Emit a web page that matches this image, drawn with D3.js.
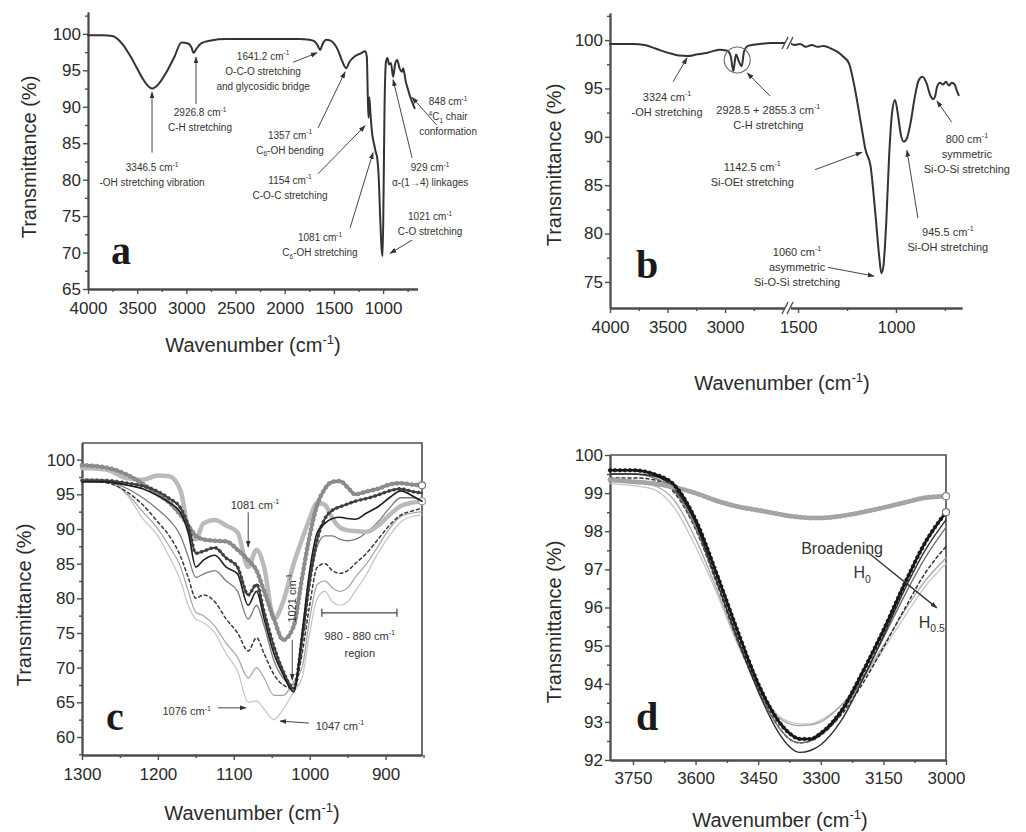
<!DOCTYPE html>
<html>
<head>
<meta charset="utf-8">
<script src="https://cdn.jsdelivr.net/npm/d3@7/dist/d3.min.js"></script>
<style>
  body { margin: 0; background: #fff; }
  svg text { font-family: "Liberation Sans", Arial, sans-serif; }
</style>
</head>
<body>
<svg id="fig" width="1026" height="832"></svg>
<script>
// ---------------- panel a : starch ----------------
const aWave = [4000, 3850, 3750, 3650, 3550, 3450, 3400, 3346, 3290, 3200, 3120, 3050, 2990, 2950, 2926, 2900, 2850, 2750, 2600, 2400,
  2200, 2000, 1850, 1750, 1700, 1665, 1641, 1615, 1580, 1540, 1500, 1460, 1420, 1376, 1340, 1290, 1230, 1180, 1165, 1155,
  1148, 1140, 1128, 1110, 1090, 1075, 1060, 1045, 1030, 1015, 1005, 995, 985, 970, 955, 940, 920, 898, 875, 857,
  830, 807, 796, 770, 745, 725, 700, 680];
const aTrans = [99.8, 99.8, 99.7, 98.6, 96.5, 94, 93, 92.5, 93, 94.8, 96.9, 98.8, 98.7, 98.2, 97.4, 97.9, 98.7, 99.1, 99.3, 99.3,
  99.3, 99.3, 99.3, 99.2, 99.0, 98.4, 97.8, 98.6, 99.2, 99.1, 98.7, 97.8, 96.4, 95.3, 96.2, 96.9, 97.3, 97.6, 96.8, 91.2,
  88.5, 91.3, 89, 86.2, 84.8, 83.8, 83, 80.5, 75, 70.5, 69.5, 78, 90, 96.2, 96.7, 95.8, 96, 94.1, 96, 96.4,
  95.2, 94.8, 95.3, 93.5, 92.3, 91.4, 90.5, 89.8];
const aXMajor = [4000, 3500, 3000, 2500, 2000, 1500, 1000];
const aXMinor = [3750, 3250, 2750, 2250, 1750, 1250, 750];
const aYMajor = [65, 70, 75, 80, 85, 90, 95, 100];
const aYMinor = [67.5, 72.5, 77.5, 82.5, 87.5, 92.5, 97.5, 102.5];
const aNotes = [
  {w: 3349, v: 81.6, t: ["3346.5 cm^{-1}", "-OH stretching vibration"], from: [3349, 83.7], to: [3349, 92.0]},
  {w: 2861, v: 89.15, t: ["2926.8 cm^{-1}", "C-H stretching"], from: [2902, 90.4], to: [2902, 96.8]},
  {w: 2220, v: 96.96, t: ["1641.2 cm^{-1}", "O-C-O stretching", "and glycosidic bridge"], from: [1915, 96.1], to: [1671, 97.4]},
  {w: 1946, v: 86.1, t: ["1357 cm^{-1}", "C_{6}-OH bending"], from: [1661, 87.1], to: [1386, 94.8]},
  {w: 1946, v: 79.95, t: ["1154 cm^{-1}", "C-O-C stretching"], from: [1661, 80.8], to: [1183, 87.4]},
  {w: 1641, v: 72.1, t: ["1081 cm^{-1}", "C_{6}-OH stretching"], from: [1335, 73.4], to: [1102, 83.7]},
  {w: 522, v: 74.9, t: ["1021 cm^{-1}", "C-O stretching"], from: [705, 71.7], to: [929, 69.9]},
  {w: 522, v: 81.7, t: ["929 cm^{-1}", "\u03b1-(1\u21924) linkages"], from: [705, 83], to: [898, 93.7]},
  {w: 339, v: 90.7, t: ["848 cm^{-1}", "^{4}C_{1} chair", "conformation"], from: [456, 87.5], to: [705, 91.3]}
];

// ---------------- panel b : TEOS ----------------
const bWave1 = [4000, 3800, 3700, 3600, 3500, 3400, 3324, 3250, 3150, 3050, 2980, 2950, 2928, 2905, 2880, 2855, 2835, 2800, 2700, 2600, 2470];
const bTrans1 = [99.6, 99.6, 99.5, 99.1, 98.7, 98.4, 98.35, 98.5, 98.7, 99, 98.9, 98.3, 96.8, 98.5, 97.8, 97.3, 98.8, 99.4, 99.6, 99.7, 99.7];
const bWave2 = [1541, 1520, 1490, 1460, 1430, 1400, 1370, 1340, 1300, 1270, 1240, 1210, 1180, 1155, 1130, 1105, 1085, 1075, 1065, 1050,
  1035, 1020, 1005, 990, 975, 960, 945, 925, 905, 885, 865, 845, 825, 810, 800, 790, 775, 760, 745, 730, 715, 700, 690, 680];
const bTrans2 = [99.7, 99.5, 99.6, 99.3, 99.5, 99.3, 99.4, 99.2, 98.8, 98.3, 97.6, 95, 91.5, 88.6, 87, 82, 77.5, 75.9, 76.5, 81,
  88, 92.5, 93.8, 92.3, 90.2, 89.5, 89.8, 91.5, 94, 95.8, 96.2, 95.6, 94.3, 93.9, 94.2, 95.2, 95.6, 95.4, 95.7, 95.3, 95.6, 95.4, 94.8, 94.3];
const bXMajor1 = [4000, 3500, 3000];
const bXMinor1 = [3750, 3250, 2750];
const bXMajor2 = [1500, 1000];
const bXMinor2 = [1250, 750];
const bYMajor = [75, 80, 85, 90, 95, 100];
const bYMinor = [77.5, 82.5, 87.5, 92.5, 97.5, 102.5];
const bNotes = [
  {w: 3504, v: 94.1, t: ["3324 cm^{-1}", "-OH stretching"], from: [3452, 95.7], to: [3330, 98.15]},
  {w: 2624, v: 92.77, t: ["2928.5 + 2855.3 cm^{-1}", "C-H stretching"], from: [2607, 94.2], to: [2807, 96.6]},
  {w: 2763, v: 86.9, t: ["1142.5 cm^{-1}", "Si-OEt stretching"], from: [1413, 86.6], to: [1174, 88.4]},
  {w: 1505, v: 78.1, t: ["1060 cm^{-1}", "asymmetric", "Si-O-Si stretching"], from: [1347, 76.5], to: [1112, 75.6]},
  {w: 735, v: 80.15, t: ["945.5 cm^{-1}", "Si-OH stretching"], from: [888, 81.6], to: [944, 88.6]},
  {w: 638, v: 89.8, t: ["800 cm^{-1}", "symmetric", "Si-O-Si stretching"], from: [715, 91.5], to: [791, 93.7]}
];
const bCircle = [2894, 97.94];

// ---------------- panel c : 1300-850 region ----------------
const cWave = [1300, 1270, 1240, 1220, 1200, 1185, 1170, 1160, 1150, 1140, 1125, 1110, 1095, 1081, 1070, 1060, 1047, 1035, 1021, 1010,
  1000, 990, 980, 970, 960, 950, 940, 925, 910, 895, 880, 865, 852];
const cLightThick = [98.8, 98.6, 97.3, 97.1, 97.7, 97.6, 95.5, 90, 88.5, 90.8, 91.3, 90.5, 89.5, 84.5, 87, 84.5, 77, 79.5, 85, 88.5,
  91.5, 93.8, 93.5, 91.5, 90.2, 89.8, 89.7, 89.6, 90.5, 92, 93.3, 93.8, 94];
const cGrayMarked = [99.2, 98.9, 97.8, 96.5, 95, 93.8, 92, 90.5, 89, 88.5, 88.3, 88.2, 87, 85.5, 84, 81, 77, 74, 76, 83,
  89, 93.5, 95.8, 96.8, 96.9, 96, 95, 95.4, 95.8, 96.4, 96.6, 96.4, 96.3];
const cDark = [96.8, 96.8, 96.3, 95.8, 94.8, 93.8, 92.3, 89.5, 84.5, 85.5, 86.2, 84.5, 83.5, 79, 81, 77, 72, 69, 66.5, 75,
  84, 89.5, 90.8, 91.5, 91.7, 91.5, 91.4, 92.3, 93.2, 94.5, 95.5, 94.8, 94];
const cDarkMarked = [97, 97, 96.6, 96.2, 95.4, 94.4, 93, 90.5, 86.5, 86.8, 87.3, 85.8, 84.5, 80.5, 82, 78, 73, 69.5, 67, 74,
  82.5, 88.5, 91.5, 92.7, 93.2, 93.6, 94, 94.4, 94.9, 95.5, 95.8, 95.4, 95.2];
const cGray = [97, 96.9, 95.8, 94.5, 92.8, 91.3, 89, 86, 83, 83.5, 84, 82.5, 81, 77, 79, 76, 71, 68.5, 67.5, 74,
  82, 87.5, 89, 89, 88.5, 88.3, 88.5, 89.5, 91, 93, 94.5, 94.5, 94.2];
const cDashed = [96.9, 96.7, 95.3, 93.5, 91, 89, 86, 83, 80, 80.5, 79.5, 77, 75, 72.4, 74.3, 72, 69, 67.5, 67, 72,
  79, 84.5, 85, 84, 83.6, 84, 85, 86.5, 88.5, 90.5, 92, 92.6, 93];
const cLight = [97.2, 97, 95, 92.5, 90, 87.5, 84.5, 81, 78, 77.5, 76, 73.5, 71.5, 68.5, 70, 68.5, 66, 66, 68, 70,
  77, 82, 82.5, 81.5, 81, 81.5, 83, 85, 87.5, 90, 91.8, 92.3, 92.5];
const cLighter = [97.3, 97.1, 94.8, 91.5, 89, 86, 82.5, 79, 77, 76.5, 75, 72, 69.5, 65, 65.2, 64, 62.5, 64, 66.5, 68.5,
  75, 80, 81, 79.5, 79, 79.5, 81, 83.5, 86.5, 89, 91, 91.8, 92];
const cXMajor = [1300, 1200, 1100, 1000, 900];
const cXMinor = [1250, 1150, 1050, 950, 850];
const cYMajor = [60, 65, 70, 75, 80, 85, 90, 95, 100];
const cYMinor = [57.5, 62.5, 67.5, 72.5, 77.5, 82.5, 87.5, 92.5, 97.5];

// ---------------- panel d : OH region ----------------
const dWave = [3805, 3750, 3700, 3650, 3600, 3550, 3500, 3450, 3400, 3375, 3350, 3325, 3300, 3250, 3200, 3150, 3100, 3050, 3000];
const dGrayThick = [99.35, 99.3, 99.25, 99.15, 99.0, 98.8, 98.65, 98.55, 98.45, 98.4, 98.37, 98.35, 98.35, 98.4, 98.5, 98.62, 98.75, 98.88, 98.92];
const dBlackMarked = [99.6, 99.6, 99.5, 99.2, 98.3, 96.9, 95.4, 94.0, 93.0, 92.7, 92.55, 92.55, 92.7, 93.3, 94.3, 95.4, 96.6, 97.7, 98.5];
const dDark = [99.5, 99.5, 99.45, 99.1, 98.2, 96.7, 95.2, 93.8, 92.7, 92.35, 92.2, 92.25, 92.4, 93.05, 94.1, 95.25, 96.45, 97.5, 98.3];
const dGray = [99.5, 99.5, 99.4, 99.05, 98.1, 96.7, 95.2, 93.85, 92.85, 92.55, 92.45, 92.5, 92.65, 93.25, 94.15, 95.2, 96.3, 97.3, 98.1];
const dDashed = [99.4, 99.4, 99.35, 99, 98.05, 96.65, 95.15, 93.85, 92.85, 92.55, 92.45, 92.5, 92.65, 93.2, 94.0, 94.95, 95.95, 96.9, 97.6];
const dLight = [99.3, 99.3, 99.2, 98.8, 97.8, 96.5, 95.1, 93.9, 93.1, 92.95, 92.9, 92.92, 93.0, 93.45, 94.15, 95.0, 95.9, 96.7, 97.3];
const dLighter = [99.25, 99.2, 99.1, 98.6, 97.6, 96.4, 95.05, 93.95, 93.15, 93.0, 92.95, 92.95, 93.05, 93.45, 94.1, 94.9, 95.75, 96.55, 97.15];
const dXMajor = [3750, 3600, 3450, 3300, 3150, 3000];
const dXMinor = [3675, 3525, 3375, 3225, 3075];
const dYMajor = [92, 93, 94, 95, 96, 97, 98, 99, 100];
const dYMinor = [92.5, 93.5, 94.5, 95.5, 96.5, 97.5, 98.5, 99.5];

// ---------------- drawing ----------------
const AX = "#4d4d4d", TXT = "#2a2a2a";
const svg = d3.select("#fig");
svg.append("rect").attr("width", 1026).attr("height", 832).attr("fill", "#fff");

const defs = svg.append("defs");
defs.append("marker").attr("id", "arr")
    .attr("viewBox", "0 0 10 10").attr("refX", 9).attr("refY", 5)
    .attr("markerWidth", 7).attr("markerHeight", 7)
    .attr("markerUnits", "userSpaceOnUse").attr("orient", "auto")
    .append("path").attr("d", "M0,1.5L10,5L0,8.5z").attr("fill", "#333");

// text with ^{sup} and _{sub}
function rich(text, str, size) {
    let parts = str.split(/(\^\{[^}]*\}|_\{[^}]*\})/).filter(p => p.length);
    let cur = 0;
    parts.forEach(p => {
        let off = 0, s = p, fs = size;
        if (p.startsWith("^{")) { off = -0.42 * size; s = p.slice(2, -1); fs = size * 0.65; }
        else if (p.startsWith("_{")) { off = 0.28 * size; s = p.slice(2, -1); fs = size * 0.65; }
        text.append("tspan").attr("dy", off - cur).attr("font-size", fs).text(s);
        cur = off;
    });
}

function tidy(sel) {
    sel.attr("font-family", null);
    sel.select(".domain").attr("stroke", AX).attr("stroke-width", 1.8);
    sel.selectAll(".tick line").attr("stroke", AX).attr("stroke-width", 1.4);
    sel.selectAll(".tick text").attr("fill", TXT).attr("font-size", 17);
}

function xAxis(g, x, yPos, major, minor, pad) {
    let gg = g.append("g").attr("transform", `translate(0,${yPos})`);
    gg.append("g").call(d3.axisBottom(x).tickValues(minor).tickFormat("").tickSize(3).tickSizeOuter(0)).call(tidy);
    gg.append("g").call(d3.axisBottom(x).tickValues(major).tickFormat(d => d).tickSize(5).tickSizeOuter(0).tickPadding(pad)).call(tidy);
}

function yAxis(g, y, xPos, major, minor) {
    let gg = g.append("g").attr("transform", `translate(${xPos},0)`);
    gg.append("g").call(d3.axisLeft(y).tickValues(minor).tickFormat("").tickSize(3).tickSizeOuter(0)).call(tidy);
    gg.append("g").call(d3.axisLeft(y).tickValues(major).tickFormat(d => d).tickSize(5).tickSizeOuter(0).tickPadding(2)).call(tidy);
}

function box(g, x, y) {
    let [x0, x1] = x.range(), [y0, y1] = y.range();
    g.append("path").attr("d", `M${x0},${y1}H${x1}V${y0}`)
        .attr("fill", "none").attr("stroke", AX).attr("stroke-width", 1.6);
}

function yTitle(g, cx, cy) {
    g.append("text").attr("transform", `translate(${cx},${cy}) rotate(-90)`)
        .attr("text-anchor", "middle").attr("dy", "0.35em")
        .attr("font-size", 20).attr("fill", TXT).text("Transmittance (%)");
}

function xTitle(g, cx, by) {
    let t = g.append("text").attr("x", cx).attr("y", by).attr("text-anchor", "middle")
        .attr("font-size", 20).attr("fill", TXT);
    rich(t, "Wavenumber (cm^{-1})", 20);
}

function letter(g, cx, by, s) {
    g.append("text").attr("x", cx).attr("y", by).attr("text-anchor", "middle")
        .style("font-family", "'Liberation Serif', 'Times New Roman', serif")
        .attr("font-weight", "bold").attr("font-size", 40).attr("fill", "#1a1a1a").text(s);
}

function curve(g, x, y, W, T, st) {
    let line = d3.line().x(d => x(d[0])).y(d => y(d[1])).curve(d3.curveMonotoneX);
    let p = g.append("path").datum(d3.zip(W, T)).attr("d", line)
        .attr("fill", "none").attr("stroke", st.c).attr("stroke-width", st.w)
        .attr("stroke-linejoin", "round").attr("stroke-linecap", "round")
        .attr("stroke-dasharray", st.dash || null);
    if (st.bead) {
        let node = p.node(), L = node.getTotalLength();
        let pts = d3.range(0, L, st.bead.step).map(s => node.getPointAtLength(s));
        g.append("g").selectAll("circle").data(pts).join("circle")
            .attr("cx", d => d.x).attr("cy", d => d.y).attr("r", st.bead.r)
            .attr("fill", st.bead.fill).attr("stroke", st.bead.stroke).attr("stroke-width", 0.6);
    }
    if (st.end) {
        g.append("circle").attr("cx", x(W[W.length - 1])).attr("cy", y(T[T.length - 1]))
            .attr("r", 3.5).attr("fill", "#fff").attr("stroke", st.end).attr("stroke-width", 1.2);
    }
}

function notes(g, xf, y, list, size, lh) {
    list.forEach(n => {
        n.t.forEach((s, i) => {
            let t = g.append("text").attr("x", xf(n.w)).attr("y", y(n.v) + 0.35 * size + i * lh)
                .attr("text-anchor", "middle").attr("font-size", size).attr("fill", "#333");
            rich(t, s, size);
        });
        if (n.from) {
            g.append("line")
                .attr("x1", xf(n.from[0])).attr("y1", y(n.from[1]))
                .attr("x2", xf(n.to[0])).attr("y2", y(n.to[1]))
                .attr("stroke", "#444").attr("stroke-width", 1).attr("marker-end", "url(#arr)");
        }
    });
}

// ===== panel a =====
{
    const g = svg.append("g");
    const x = d3.scaleLinear().domain([4000, 650]).range([88, 417.5]);
    const y = d3.scaleLinear().domain([65, 103]).range([289, 12]);
    xAxis(g, x, 289, aXMajor, aXMinor, 8);
    yAxis(g, y, 88, aYMajor, aYMinor);
    curve(g, x, y, aWave, aTrans, {c: "#333", w: 2});
    notes(g, x, y, aNotes, 10, 15);
    yTitle(g, 29, 157);
    xTitle(g, 253, 352);
    letter(g, 121, 264, "a");
}

// ===== panel b (broken axis) =====
{
    const g = svg.append("g");
    const x1 = d3.scaleLinear().domain([4000, 2470]).range([610, 786]);
    const x2 = d3.scaleLinear().domain([1541, 663]).range([790, 962]);
    const xb = w => (w >= 2000 ? x1(w) : x2(w));
    const y = d3.scaleLinear().domain([72.3, 102.8]).range([308, 13]);
    xAxis(g, x1, 308, bXMajor1, bXMinor1, 8);
    xAxis(g, x2, 308, bXMajor2, bXMinor2, 8);
    yAxis(g, y, 610, bYMajor, bYMinor);
    curve(g, x1, y, bWave1, bTrans1, {c: "#333", w: 2});
    curve(g, x2, y, bWave2, bTrans2, {c: "#333", w: 2});
    // break marks on axis and on the curve
    const bx = (x1.range()[1] + x2.range()[0]) / 2;
    [308, y(bTrans1[bTrans1.length - 1])].forEach(yy => {
        g.append("rect").attr("x", bx - 3).attr("y", yy - 4).attr("width", 6).attr("height", 8).attr("fill", "#fff");
        [-3, 2].forEach(o => g.append("line")
            .attr("x1", bx + o - 3).attr("y1", yy + 6).attr("x2", bx + o + 3).attr("y2", yy - 6)
            .attr("stroke", AX).attr("stroke-width", 1.4));
    });
    g.append("circle").attr("cx", xb(bCircle[0])).attr("cy", y(bCircle[1])).attr("r", 13)
        .attr("fill", "none").attr("stroke", "#666").attr("stroke-width", 1.1);
    notes(g, xb, y, bNotes, 11, 15);
    yTitle(g, 554, 165);
    xTitle(g, 782, 390);
    letter(g, 647, 278, "b");
}

// ===== panel c =====
{
    const g = svg.append("g");
    const x = d3.scaleLinear().domain([1300, 852]).range([82, 422]);
    const y = d3.scaleLinear().domain([57.4, 102.4]).range([755, 443]);
    box(g, x, y);
    xAxis(g, x, 755, cXMajor, cXMinor, 8);
    yAxis(g, y, 82, cYMajor, cYMinor);
    curve(g, x, y, cWave, cLighter, {c: "#c4c4c4", w: 1.2});
    curve(g, x, y, cWave, cLight, {c: "#a3a3a3", w: 1.2});
    curve(g, x, y, cWave, cGray, {c: "#7a7a7a", w: 1.3});
    curve(g, x, y, cWave, cDashed, {c: "#3a3a3a", w: 1.5, dash: "3,3"});
    curve(g, x, y, cWave, cLightThick, {c: "#bababa", w: 4.5, end: "#999"});
    curve(g, x, y, cWave, cGrayMarked, {c: "#919191", w: 3.2, end: "#777",
        bead: {step: 5, r: 2, fill: "#919191", stroke: "#7a7a7a"}});
    curve(g, x, y, cWave, cDarkMarked, {c: "#444", w: 2,
        bead: {step: 5, r: 1.5, fill: "#444", stroke: "#333"}});
    curve(g, x, y, cWave, cDark, {c: "#1e1e1e", w: 1.6});

    const n = g.append("g");
    let t = n.append("text").attr("x", x(1072)).attr("y", y(93.45) + 4).attr("text-anchor", "middle")
        .attr("font-size", 11).attr("fill", "#333");
    rich(t, "1081 cm^{-1}", 11);
    n.append("line").attr("x1", x(1081)).attr("y1", y(92.4)).attr("x2", x(1081)).attr("y2", y(87.4))
        .attr("stroke", "#444").attr("marker-end", "url(#arr)");
    t = n.append("text").attr("transform", `translate(${x(1018)},${y(80)}) rotate(-90)`)
        .attr("text-anchor", "middle").attr("dy", 4).attr("font-size", 11).attr("fill", "#333");
    rich(t, "1021 cm^{-1}", 11);
    n.append("line").attr("x1", x(1023)).attr("y1", y(74)).attr("x2", x(1023)).attr("y2", y(68.2))
        .attr("stroke", "#444").attr("marker-end", "url(#arr)");
    n.append("path")
        .attr("d", `M${x(984)},${y(77.9) - 4}V${y(77.9) + 4}M${x(984)},${y(77.9)}H${x(885)}M${x(885)},${y(77.9) - 4}V${y(77.9) + 4}`)
        .attr("stroke", "#444").attr("stroke-width", 1.2).attr("fill", "none");
    t = n.append("text").attr("x", x(934)).attr("y", y(74.55) + 4).attr("text-anchor", "middle")
        .attr("font-size", 11).attr("fill", "#333");
    rich(t, "980 - 880 cm^{-1}", 11);
    n.append("text").attr("x", x(934)).attr("y", y(74.55) + 21).attr("text-anchor", "middle")
        .attr("font-size", 11).attr("fill", "#333").text("region");
    t = n.append("text").attr("x", x(1162)).attr("y", y(63.7) + 4).attr("text-anchor", "middle")
        .attr("font-size", 11).attr("fill", "#333");
    rich(t, "1076 cm^{-1}", 11);
    n.append("line").attr("x1", x(1121)).attr("y1", y(64.2)).attr("x2", x(1084)).attr("y2", y(64.2))
        .attr("stroke", "#444").attr("marker-end", "url(#arr)");
    t = n.append("text").attr("x", x(960)).attr("y", y(61.6) + 4).attr("text-anchor", "middle")
        .attr("font-size", 11).attr("fill", "#333");
    rich(t, "1047 cm^{-1}", 11);
    n.append("line").attr("x1", x(1001)).attr("y1", y(62)).attr("x2", x(1039)).attr("y2", y(62.3))
        .attr("stroke", "#444").attr("marker-end", "url(#arr)");

    yTitle(g, 24, 605);
    xTitle(g, 252, 820);
    letter(g, 115, 730, "c");
}

// ===== panel d =====
{
    const g = svg.append("g");
    const x = d3.scaleLinear().domain([3805, 3000]).range([610, 946]);
    const y = d3.scaleLinear().domain([92, 100]).range([760, 455]);
    box(g, x, y);
    xAxis(g, x, 760, dXMajor, dXMinor, 7);
    yAxis(g, y, 610, dYMajor, dYMinor);
    curve(g, x, y, dWave, dLighter, {c: "#c4c4c4", w: 1.3});
    curve(g, x, y, dWave, dLight, {c: "#a6a6a6", w: 1.3});
    curve(g, x, y, dWave, dDashed, {c: "#333", w: 1.5, dash: "3,3"});
    curve(g, x, y, dWave, dGray, {c: "#707070", w: 1.4});
    curve(g, x, y, dWave, dDark, {c: "#2e2e2e", w: 1.4});
    curve(g, x, y, dWave, dGrayThick, {c: "#a8a8a8", w: 4.5, end: "#888",
        bead: {step: 5, r: 2, fill: "#a8a8a8", stroke: "#9a9a9a"}});
    curve(g, x, y, dWave, dBlackMarked, {c: "#1a1a1a", w: 2.6, end: "#777",
        bead: {step: 5, r: 1.8, fill: "#1a1a1a", stroke: "#111"}});

    const n = g.append("g");
    n.append("text").attr("x", x(3249)).attr("y", y(97.56) + 6).attr("text-anchor", "middle")
        .attr("font-size", 16).attr("fill", "#333").text("Broadening");
    let t = n.append("text").attr("x", x(3201)).attr("y", y(96.93) + 6).attr("text-anchor", "middle")
        .attr("font-size", 16).attr("fill", "#333");
    rich(t, "H_{0}", 16);
    t = n.append("text").attr("x", x(3034)).attr("y", y(95.62) + 6).attr("text-anchor", "middle")
        .attr("font-size", 16).attr("fill", "#333");
    rich(t, "H_{0.5}", 16);
    n.append("line").attr("x1", x(3189)).attr("y1", y(97.46)).attr("x2", x(3022)).attr("y2", y(95.99))
        .attr("stroke", "#333").attr("stroke-width", 1.3).attr("marker-end", "url(#arr)");

    yTitle(g, 554, 622);
    xTitle(g, 780, 827);
    letter(g, 647, 730, "d");
}
</script>
</body>
</html>
